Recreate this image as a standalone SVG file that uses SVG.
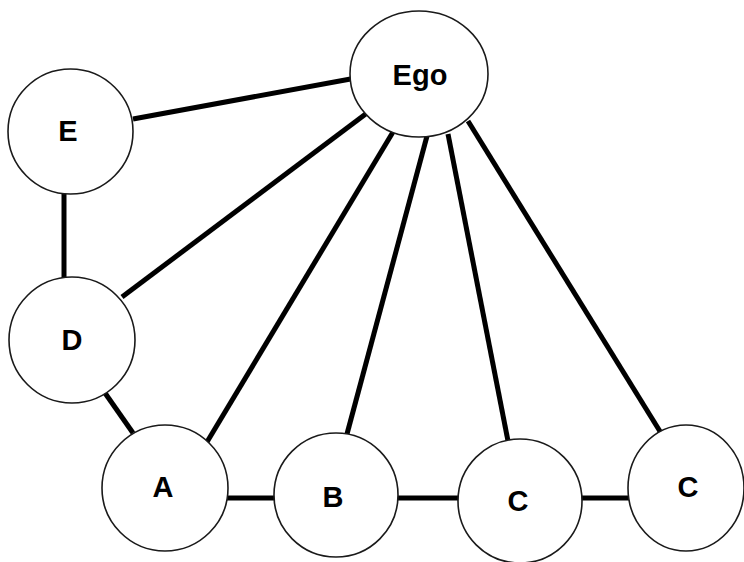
<svg xmlns="http://www.w3.org/2000/svg" width="744" height="562" viewBox="0 0 744 562">
<style>
.edge{stroke:#000;stroke-width:5;stroke-linecap:butt;fill:none}
.node{fill:#fff;stroke:#1a1a1a;stroke-width:1.6}
.lbl{font-family:"Liberation Sans",Arial,sans-serif;font-weight:bold;font-size:29px;fill:#000;text-anchor:middle}
</style>
<rect width="744" height="562" fill="#fff"/>
<g id="connectors">
<line class="edge" x1="133" y1="119" x2="356" y2="78"/>
<line class="edge" x1="64" y1="193" x2="64" y2="279"/>
<line class="edge" x1="122" y1="297" x2="367" y2="113"/>
<line class="edge" x1="105" y1="393" x2="133" y2="433"/>
<line class="edge" x1="207" y1="442" x2="393" y2="132"/>
<line class="edge" x1="347" y1="434" x2="427" y2="136"/>
<line class="edge" x1="508" y1="441" x2="448" y2="134"/>
<line class="edge" x1="661" y1="433" x2="468" y2="121"/>
<line class="edge" x1="225" y1="498" x2="277" y2="498"/>
<line class="edge" x1="395" y1="498" x2="460" y2="498"/>
<line class="edge" x1="581" y1="498" x2="630" y2="498"/>
</g>
<g id="ego"><ellipse class="node" cx="419" cy="74" rx="69" ry="63"/><text class="lbl" x="420" y="85">Ego</text></g>
<g id="e"><circle class="node" cx="70.5" cy="131.5" r="62.5"/><text class="lbl" x="68" y="141">E</text></g>
<g id="d"><circle class="node" cx="72" cy="340" r="63"/><text class="lbl" x="72" y="350">D</text></g>
<g id="a"><circle class="node" cx="165" cy="488" r="63"/><text class="lbl" x="163" y="497">A</text></g>
<g id="b"><circle class="node" cx="336" cy="495" r="62"/><text class="lbl" x="333" y="507">B</text></g>
<g id="c1"><circle class="node" cx="520" cy="501" r="62"/><text class="lbl" x="518" y="511">C</text></g>
<g id="c2"><ellipse class="node" cx="686" cy="488" rx="58" ry="63"/><text class="lbl" x="688" y="497">C</text></g>
</svg>
